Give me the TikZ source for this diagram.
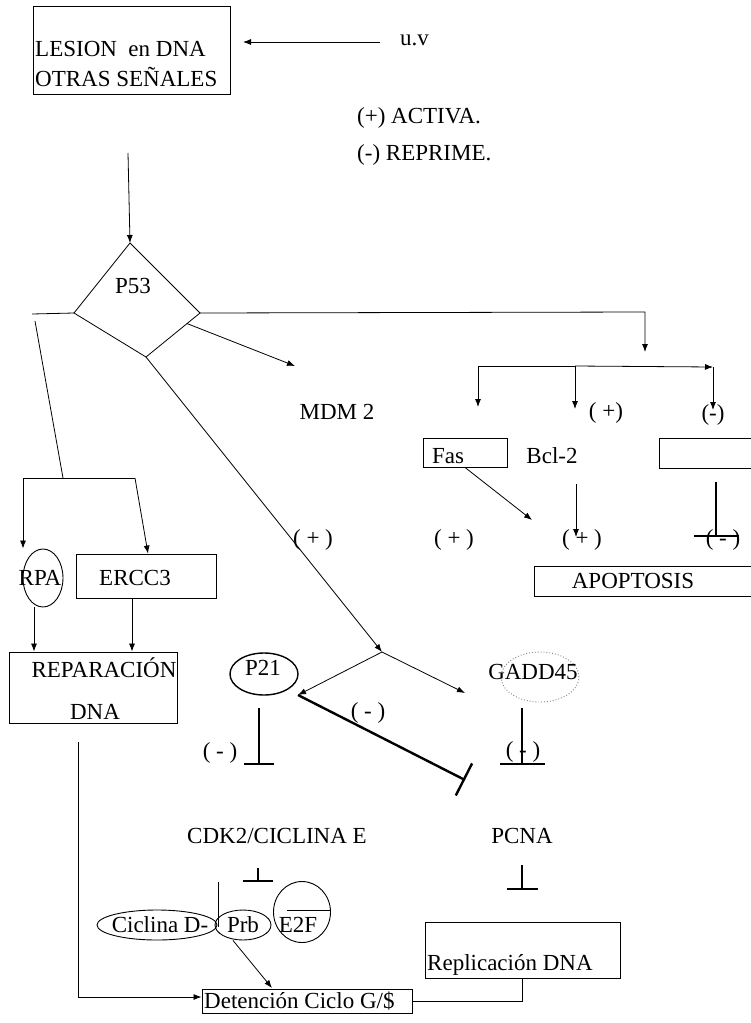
\documentclass[tikz,border=0pt]{standalone}
\usepackage{fontspec}
\setmainfont{Liberation Serif}
\usetikzlibrary{arrows.meta,shapes.geometric,calc}
\begin{document}
\begin{tikzpicture}[x=1pt,y=-1pt,
 lbl/.style={font=\fontsize{23}{30}\selectfont, inner sep=0pt},
 boxn/.style={draw, line width=0.9pt, inner sep=0pt},
 ell/.style={draw, ellipse, line width=0.9pt, inner sep=0pt},
 ln/.style={line width=0.8pt},
 arr/.style={ln, -{Latex[length=8pt,width=6pt]}},
 inh/.style={line width=2.4pt, -{Bar[width=#1]}},
]
\useasboundingbox (0,0) rectangle (751,1023);
\fill[white] (0,0) rectangle (751,1023);

% top
\node[boxn, minimum width=197pt, minimum height=88pt] (lesion) at (131.5,50) {};
\node[lbl, align=left, anchor=west] (lesiont) at (35,64) {LESION\ \ en DNA\\OTRAS SEÑALES};
\node[lbl, anchor=west] (uv) at (400,40) {u.v};
\coordinate (uvs) at (380,42);
\coordinate (uve) at (243,42);
\draw[arr] (uvs) -- (uve);
\node[lbl, anchor=west] (leg1) at (357,118) {(+) ACTIVA.};
\node[lbl, anchor=west] (leg2) at (357,155) {(-) REPRIME.};

% P53 diamond
\coordinate (pT) at (130,243);
\coordinate (pL) at (74,313);
\coordinate (pR) at (200,313);
\coordinate (pB) at (146,357);
\draw[ln] (pT) -- (pR) -- (pB) -- (pL) -- cycle;
\node[lbl] (p53) at (133,286) {P53};
\coordinate (v1) at (128,153);
\draw[arr] (v1) -- (pT);

% left branch
\coordinate (lA) at (32,314);
\draw[ln] (pL) -- (lA);
\coordinate (lB) at (35,321);
\coordinate (lC) at (63,478);
\draw[ln] (lB) -- (lC);
\coordinate (bl) at (23,478);
\coordinate (br) at (135,478);
\draw[ln] (bl) -- (br);
\node[ell, minimum width=40pt, minimum height=58pt] (rpa) at (43,578) {};
\node[lbl] (rpat) at (40,578) {RPA};
\node[boxn, minimum width=140pt, minimum height=44pt] (ercc) at (146,576) {};
\node[lbl] (ercct) at (135,578) {ERCC3};
\draw[arr] (bl) -- (bl |- rpa.north);
\draw[arr] (br) -- ([xshift=2pt]ercc.north);
\node[boxn, minimum width=168pt, minimum height=71pt] (rep) at (93,687.5) {};
\node[lbl] (rept1) at (104,668) {REPARACIÓN};
\node[lbl] (rept2) at (95,712) {DNA};
\draw[arr] ([xshift=-9pt]rpa.south) -- ([xshift=-9pt]rpa.south |- rep.north);
\draw[arr] ([xshift=-14pt]ercc.south) -- ([xshift=-14pt]ercc.south |- rep.north);

% bottom box
\node[boxn, minimum width=210pt, minimum height=24pt] (det) at (307,1001) {};
\node[lbl, anchor=west] (dett) at (204,1001) {Detención Ciclo G/\$};
\coordinate (rd) at (78,742);
\draw[arr] (rd) |- ([yshift=4pt]det.west);

% MDM2
\coordinate (m0) at ($(pR)!0.24!(pB)$);
\coordinate (m1) at (295,366);
\draw[arr] (m0) -- (m1);
\node[lbl] (mdm) at (337,412) {MDM 2};

% right branch
\coordinate (rc) at (645,312);
\coordinate (rd2) at (645,352);
\draw[arr] (pR) -- (rc) -- (rd2);
\coordinate (b1) at (478,366);
\coordinate (b1d) at (478,407);
\coordinate (b2) at (575,366);
\coordinate (b2d) at (575,409);
\coordinate (b3) at (713,367);
\coordinate (b3d) at (713,410);
\draw[arr] (b2) -- (b1) -- (b1d);
\draw[arr] (b2) -- (b2d);
\draw[arr] (b2) -- (b3);
\draw[arr] (b3) -- (b3d);
\node[lbl] (lp1) at (606,413) {( +)};
\node[lbl] (lm0) at (713,415) {(-)};

\node[boxn, minimum width=84pt, minimum height=29pt] (fas) at (465,452.5) {};
\node[lbl] (fast) at (448,456) {Fas};
\node[lbl] (bcl) at (552,456) {Bcl-2};
\node[boxn, minimum width=93pt, minimum height=30pt] (rbox) at (705.5,453) {};
\coordinate (fe) at (532,520);
\draw[arr] (fas.south) -- (fe);
\coordinate (bc0) at (576,484);
\coordinate (bc1) at (576,537);
\draw[arr] (bc0) -- (bc1);
\coordinate (ri0) at (716,482);
\coordinate (ri1) at (716,537);
\draw[inh=45pt] (ri0) -- (ri1);
\node[lbl] (lp2) at (454,540) {( + )};
\node[lbl] (lp3) at (582,540) {( + )};
\node[lbl] (lm3) at (723,540) {( - )};
\node[boxn, minimum width=218pt, minimum height=30pt] (apo) at (643,581) {};
\node[lbl] (apot) at (633,581) {APOPTOSIS};

% P53 -> P21 / GADD45
\coordinate (j) at (382,652);
\draw[arr] (pB) -- (j);
\node[lbl] (lp4) at (313,540) {( + )};
\node[ell, line width=1.4pt, minimum width=68pt, minimum height=42pt] (p21) at (264,674) {};
\node[lbl] (p21t) at (263,668) {P21};
\node[ell, draw=gray, dotted, minimum width=78pt, minimum height=50pt] (gadd) at (540,677) {};
\node[lbl] (gaddt) at (533,672) {GADD45};
\coordinate (p21e) at (298,695);
\coordinate (ge) at (465,693);
\draw[arr] (j) -- (p21e);
\draw[arr] (j) -- (ge);
\coordinate (te) at (465,780);
\draw[inh=36pt] (p21e) -- (te);
\node[lbl] (lm1) at (368,713) {( - )};
\coordinate (pi0) at (259,708);
\coordinate (pi1) at (259,765);
\draw[inh=30pt] (pi0) -- (pi1);
\node[lbl] (lm2) at (220,753) {( - )};
\coordinate (gi0) at (522,708);
\coordinate (gi1) at (522,765);
\draw[inh=45pt] (gi0) -- (gi1);
\node[lbl] (lm4) at (523,752) {( - )};

% lower part
\node[lbl] (cdk) at (277,836) {CDK2/CICLINA E};
\node[lbl] (pcna) at (522,836) {PCNA};
\coordinate (ci0) at (258,868);
\coordinate (ci1) at (258,882);
\draw[inh=30pt] (ci0) -- (ci1);
\coordinate (pc0) at (522,865);
\coordinate (pc1) at (522,890);
\draw[inh=31pt] (pc0) -- (pc1);
\coordinate (tl0) at (218,882);
\coordinate (tl1) at (218,927);
\draw[ln] (tl0) -- (tl1);

\node[ell, minimum width=120pt, minimum height=30pt] (cicd) at (157,925) {};
\node[lbl] (cicdt) at (160,925) {Ciclina D-};
\node[ell, minimum width=56pt, minimum height=30pt] (prb) at (243,925) {};
\node[lbl] (prbt) at (243,925) {Prb};
\node[ell, minimum width=57pt, minimum height=61pt] (e2f) at (302,912) {};
\node[lbl] (e2ft) at (298,925) {E2F};
\coordinate (e2a) at (287,910);
\coordinate (e2b) at (330,910);
\draw[ln] (e2a) -- (e2b);
\coordinate (pd) at (272,988);
\draw[arr] ([xshift=-10pt]prb.south) -- (pd);

\node[boxn, minimum width=195pt, minimum height=56pt] (repl) at (522.5,950) {};
\node[lbl, anchor=west] (replt) at (427,965) {Replicación DNA};
\draw[ln] (repl.south) |- (det.east);
\end{tikzpicture}
\end{document}
